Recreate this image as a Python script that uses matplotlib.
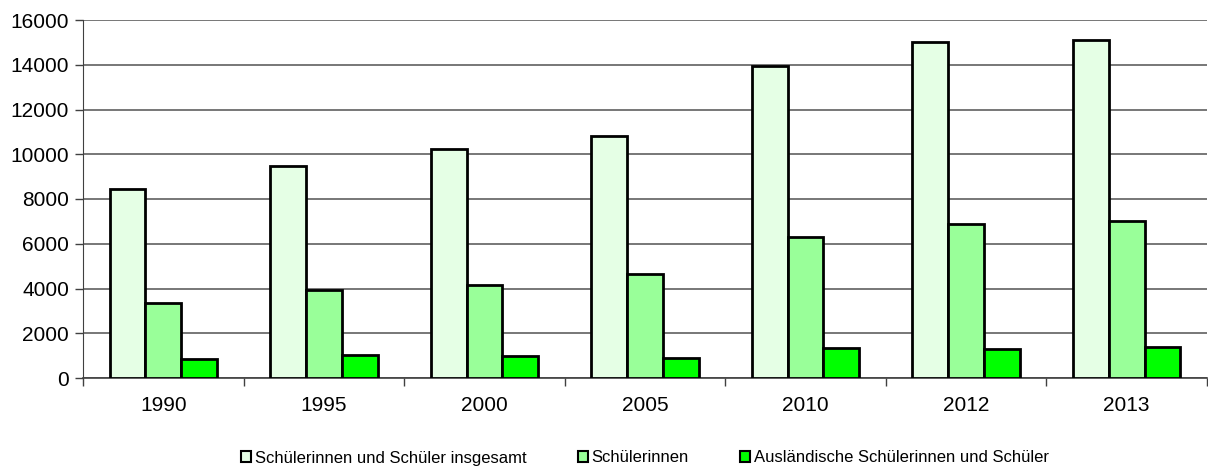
import numpy as np
import matplotlib.pyplot as plt

plt.rcParams['font.family'] = ['Liberation Sans', 'DejaVu Sans']

years = ['1990', '1995', '2000', '2005', '2010', '2012', '2013']
insgesamt = [8450, 9470, 10250, 10800, 13950, 15030, 15120]
schuelerinnen = [3350, 3950, 4150, 4670, 6300, 6900, 7000]
auslaendisch = [850, 1050, 1000, 900, 1350, 1300, 1380]

labels = ['Schülerinnen und Schüler insgesamt', 'Schülerinnen',
          'Ausländische Schülerinnen und Schüler']
colors = ['#e5ffe5', '#99ff99', '#00ff00']

fig = plt.figure(figsize=(12.08, 4.70), dpi=100)
ax = fig.add_axes([83 / 1208, 1 - 378 / 470, 1 - 84 / 1208, 358 / 470])

x = np.arange(len(years))
w = 0.223
for i, (vals, c, lab) in enumerate(zip([insgesamt, schuelerinnen, auslaendisch], colors, labels)):
    ax.bar(x + (i - 1) * w, vals, w, color=c, edgecolor='black', linewidth=2,
           label=lab, zorder=3)

ax.set_xlim(-0.5, len(years) - 0.5)
ax.set_ylim(0, 16000)
ax.set_yticks(range(0, 16001, 2000))
ax.yaxis.grid(True, color='#606060', linewidth=1.2, zorder=0)
ax.set_xticks(x)
ax.set_xticklabels(years)
ax.set_xticks(np.arange(-0.5, len(years)), minor=True)
ax.tick_params(axis='x', which='major', length=0, labelsize=15, pad=13)
ax.tick_params(axis='x', which='minor', length=6, width=1, color='#404040')
ax.tick_params(axis='y', length=6, width=1, color='#404040', labelsize=15, pad=4)

for s in ['top', 'right']:
    ax.spines[s].set_visible(False)
ax.spines['left'].set_color('#404040')
ax.spines['bottom'].set_color('#404040')
ax.spines['bottom'].set_linewidth(1.2)

leg = fig.legend(loc='center', bbox_to_anchor=(645 / 1208, 1 - 458 / 470), ncol=3,
                 frameon=False, fontsize=12, handlelength=0.6, handleheight=0.6,
                 handletextpad=0.2, columnspacing=3.1)
for h in leg.legend_handles:
    h.set_linewidth(1.5)

fig.savefig('out.png', dpi=100)
